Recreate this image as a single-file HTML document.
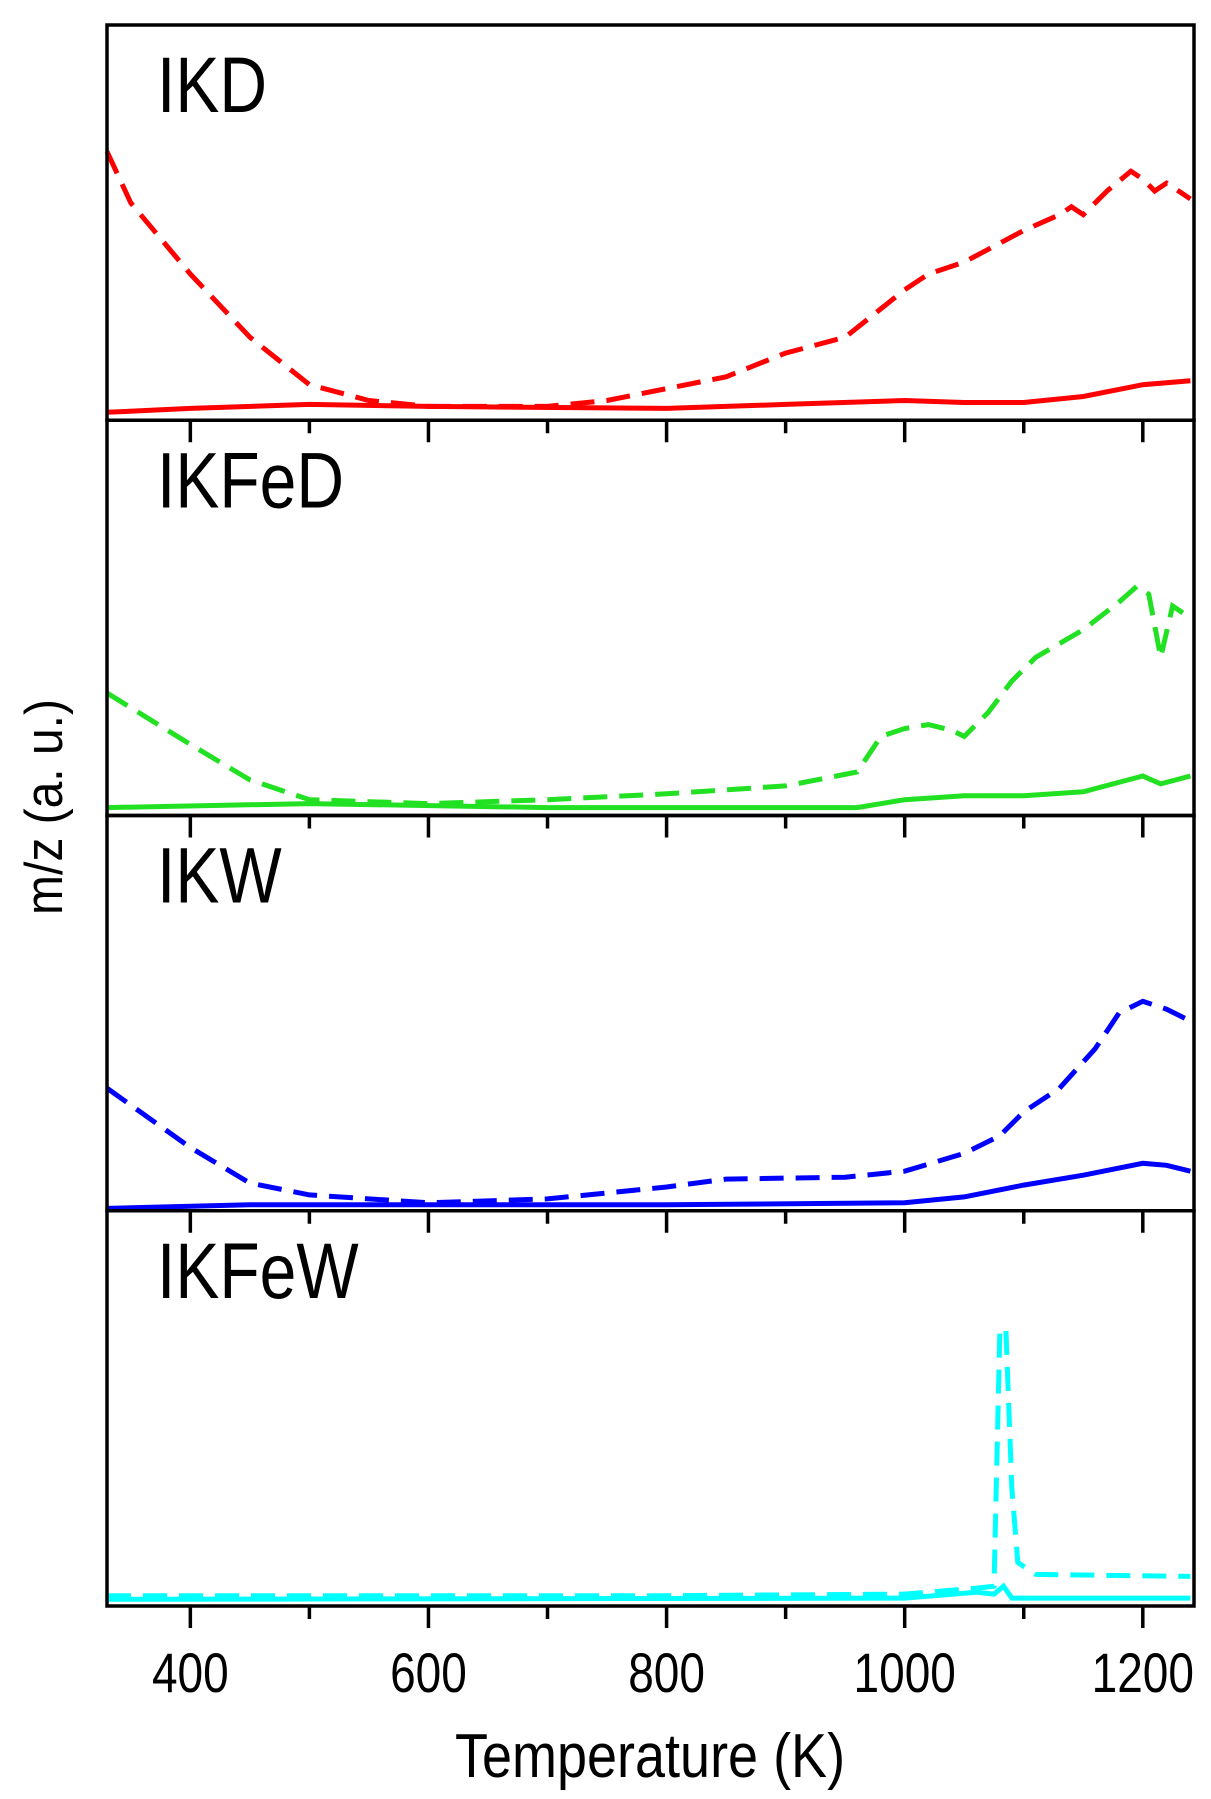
<!DOCTYPE html>
<html><head><meta charset="utf-8"><style>
html,body{margin:0;padding:0;background:#fff;}
svg{display:block;font-family:"Liberation Sans",Arial,sans-serif;}
</style></head><body>
<svg id="chart" width="1211" height="1799" viewBox="0 0 1211 1799" xmlns="http://www.w3.org/2000/svg">
<g id="marks"></g>
<g id="axes"></g>
<text x="0" y="0" transform="translate(62,807) rotate(-90) scale(1,1.1)" text-anchor="middle" font-size="48">m/z (a. u.)</text>
<text x="0" y="0" transform="translate(650,1777) scale(1,1.15)" text-anchor="middle" font-size="54">Temperature (K)</text>
</svg>
<script>
const panelNames = ["IKD","IKFeD","IKW","IKFeW"];
const panelColors = ["#ff0000","#22e022","#0000ff","#00ffff"];
const xTicks = [400,600,800,1000,1200];
const xMinorTicks = [500,700,900,1100];
const dashedT = [
 [330,350,400,450,500,550,600,700,750,800,850,900,950,1000,1020,1050,1100,1130,1140,1150,1170,1190,1200,1210,1220,1240],
 [330,400,450,500,600,700,800,900,960,980,1000,1020,1040,1050,1070,1090,1110,1150,1180,1195,1205,1215,1225,1240],
 [330,400,450,500,600,700,800,850,950,1000,1050,1080,1100,1130,1160,1180,1200,1220,1240],
 [330,800,1000,1060,1075,1080,1085,1090,1095,1110,1240]
];
const dashedV = [
 [0.68,0.55,0.37,0.21,0.09,0.05,0.035,0.035,0.05,0.08,0.11,0.17,0.21,0.33,0.37,0.40,0.48,0.52,0.54,0.52,0.58,0.63,0.61,0.58,0.60,0.56],
 [0.31,0.18,0.09,0.04,0.03,0.04,0.055,0.075,0.11,0.20,0.22,0.23,0.215,0.20,0.26,0.34,0.40,0.47,0.54,0.58,0.56,0.40,0.53,0.50],
 [0.31,0.16,0.07,0.04,0.02,0.03,0.06,0.08,0.085,0.10,0.145,0.19,0.25,0.31,0.41,0.50,0.53,0.51,0.48],
 [0.026,0.026,0.03,0.045,0.05,0.70,0.70,0.30,0.11,0.08,0.075]
];
const solidT = [
 [330,400,500,600,800,900,1000,1050,1100,1150,1200,1240],
 [330,500,700,960,1000,1050,1100,1150,1200,1215,1240],
 [330,450,600,800,1000,1050,1100,1150,1200,1220,1240],
 [330,1000,1060,1075,1083,1090,1240]
];
const solidV = [
 [0.02,0.03,0.04,0.035,0.03,0.04,0.05,0.045,0.045,0.06,0.09,0.10],
 [0.02,0.03,0.02,0.02,0.04,0.05,0.05,0.06,0.10,0.08,0.10],
 [0.006,0.015,0.015,0.015,0.02,0.035,0.065,0.09,0.12,0.115,0.10],
 [0.017,0.02,0.035,0.03,0.05,0.02,0.02]
];
const NS="http://www.w3.org/2000/svg";
const L=107,R=1194,T0=25,PH=395.25;
const xs=t=>L+(t-330)/(1243-330)*(R-L);
const pTop=i=>T0+i*PH, pBot=i=>T0+(i+1)*PH;
const ys=(i,v)=>pBot(i)-v*PH;
const marks=document.getElementById('marks'), axes=document.getElementById('axes');
function mk(tag,attrs,parent){const e=document.createElementNS(NS,tag);for(const k in attrs)e.setAttribute(k,attrs[k]);parent.appendChild(e);return e;}
for(let i=0;i<4;i++){
  const g=mk('g',{},marks);
  
  
  const d1=dashedT[i].map((t,j)=>(j?'L':'M')+xs(t).toFixed(1)+','+ys(i,dashedV[i][j]).toFixed(1)).join('');
  const p1=mk('path',{d:d1,fill:'none',stroke:panelColors[i],'stroke-width':5,'stroke-dasharray':'24 12'},g);
  
  
  const d2=solidT[i].map((t,j)=>(j?'L':'M')+xs(t).toFixed(1)+','+ys(i,solidV[i][j]).toFixed(1)).join('');
  const p2=mk('path',{d:d2,fill:'none',stroke:panelColors[i],'stroke-width':5},g);
  
  
  const lb=mk('text',{x:0,y:0,'font-size':66,transform:'translate(157,'+(pTop(i)+87)+') scale(1,1.2)'},g);
  lb.textContent=panelNames[i];
  
  
  const fr=mk('rect',{x:L,y:pTop(i),width:R-L,height:PH,fill:'none',stroke:'#000','stroke-width':3.5},axes);
  
  
  xTicks.forEach(t=>{const tk=mk('line',{x1:xs(t),x2:xs(t),y1:pBot(i),y2:pBot(i)+22,stroke:'#000','stroke-width':3.5},axes);
    
    });
  xMinorTicks.forEach(t=>{const tk=mk('line',{x1:xs(t),x2:xs(t),y1:pBot(i),y2:pBot(i)+13,stroke:'#000','stroke-width':3.5},axes);
    
    });
}
xTicks.forEach(t=>{const tx=mk('text',{x:0,y:0,'text-anchor':'middle','font-size':46,transform:'translate('+xs(t)+',1692) scale(1,1.2)'},axes);
  tx.textContent=t;
  
  });
</script>
</body></html>
